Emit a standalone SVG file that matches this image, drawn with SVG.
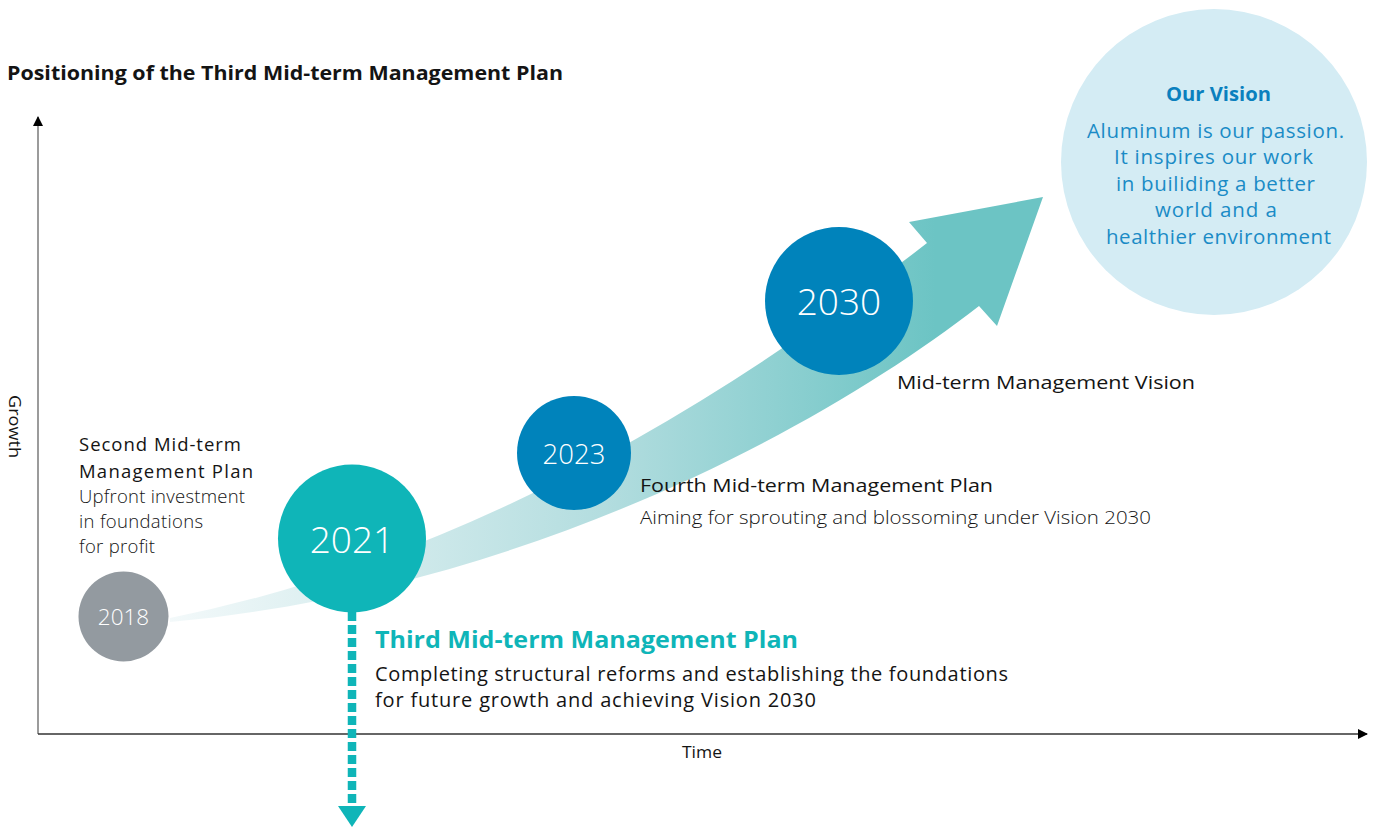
<svg xmlns="http://www.w3.org/2000/svg" width="1375" height="828" viewBox="0 0 1375 828">
  <defs>
    <linearGradient id="bandGrad" gradientUnits="userSpaceOnUse" x1="170" y1="0" x2="1040" y2="0">
      <stop offset="0" stop-color="#f3f9fa"/>
      <stop offset="0.5" stop-color="#b3dddf"/>
      <stop offset="0.88" stop-color="#6cc4c4"/>
      <stop offset="1" stop-color="#6cc4c4"/>
    </linearGradient>
    <marker id="axisHead" viewBox="0 0 10 10" refX="9" refY="5" markerWidth="10" markerHeight="10" markerUnits="userSpaceOnUse" orient="auto">
      <path d="M0,0 L10,5 L0,10 Z" fill="#000"/>
    </marker>
  </defs>
  <style>
    .txt { font-family: "Open Sans", "Noto Sans", "Liberation Sans", sans-serif; fill: #141414; }
    .bold { font-weight: 700; }
    .light { font-weight: 300; }
    .year { font-family: "Open Sans", "Noto Sans", "Liberation Sans", sans-serif; fill: #ffffff; text-anchor: middle; font-weight: 300; }
    .vision { font-family: "Open Sans", "Noto Sans", "Liberation Sans", sans-serif; fill: #1a8bc6; text-anchor: middle; }
  </style>

  <rect width="1375" height="828" fill="#ffffff"/>

  <!-- title -->
  <text class="txt bold" x="7" y="80" font-size="19.5" textLength="556" lengthAdjust="spacingAndGlyphs">Positioning of the Third Mid-term Management Plan</text>

  <!-- axes -->
  <g id="axes">
    <line x1="38" y1="734" x2="38" y2="117" stroke="#7a7a7a" stroke-width="1.5" marker-end="url(#axisHead)"/>
    <line x1="38" y1="734" x2="1367" y2="734" stroke="#333333" stroke-width="1.5" marker-end="url(#axisHead)"/>
    <text class="txt" x="0" y="0" font-size="16" transform="translate(9,426.5) rotate(90)" text-anchor="middle" textLength="63" lengthAdjust="spacingAndGlyphs">Growth</text>
    <text class="txt" x="702" y="758" font-size="16" text-anchor="middle" textLength="40" lengthAdjust="spacingAndGlyphs">Time</text>
  </g>

  <!-- growth arrow -->
  <g id="growth-arrow">
    <path d="M170,618 Q541,544 927,243 L909,222 L1043,197 L997,326 L979,306 C820,430 520,590 170,622 Z" fill="url(#bandGrad)"/>
  </g>

  <!-- connectors -->
  <g id="connectors">
    <line x1="352" y1="612" x2="352" y2="806" stroke="#0fb5b8" stroke-width="8.5" stroke-dasharray="9 4"/>
    <path d="M338,806 L366,806 L352,827 Z" fill="#0fb5b8"/>
  </g>

  <!-- Our Vision -->
  <g id="our-vision">
    <circle cx="1214" cy="162" r="153" fill="#d4ecf4"/>
    <text class="vision bold" x="1218.5" y="101" font-size="19.5" style="fill:#0a80be" textLength="105" lengthAdjust="spacingAndGlyphs">Our Vision</text>
    <text class="vision" font-size="20.5" lengthAdjust="spacingAndGlyphs">
      <tspan x="1218.5" y="138" textLength="257">Aluminum is our passion.</tspan>
      <tspan x="1216.5" y="164" textLength="199">It inspires our work</tspan>
      <tspan x="1218.5" y="191" textLength="199">in builiding a better</tspan>
      <tspan x="1219" y="217" textLength="122">world and a</tspan>
      <tspan x="1218.5" y="244" textLength="225">healthier environment</tspan>
    </text>
  </g>

  <!-- 2018 -->
  <g id="plan-2018">
    <circle cx="123.5" cy="616.5" r="45" fill="#939aa0"/>
    <text class="year" x="123.5" y="624.5" font-size="22.5">2018</text>
    <text class="txt" font-size="18.5" lengthAdjust="spacingAndGlyphs">
      <tspan x="79" y="451" textLength="162">Second Mid-term</tspan>
      <tspan x="79" y="478" textLength="174">Management Plan</tspan>
    </text>
    <text class="txt light" font-size="18.5" lengthAdjust="spacingAndGlyphs">
      <tspan x="79" y="503" textLength="166">Upfront investment</tspan>
      <tspan x="79" y="528" textLength="124">in foundations</tspan>
      <tspan x="79" y="553" textLength="76">for profit</tspan>
    </text>
  </g>

  <!-- 2021 -->
  <g id="plan-2021">
    <circle cx="352" cy="538.5" r="74" fill="#0fb5b8"/>
    <text class="year" x="352" y="553" font-size="37">2021</text>
    <text class="txt bold" x="375" y="648" font-size="23.5" style="fill:#0fb5b8" textLength="423" lengthAdjust="spacingAndGlyphs">Third Mid-term Management Plan</text>
    <text class="txt" font-size="20" lengthAdjust="spacingAndGlyphs">
      <tspan x="375" y="681" textLength="633">Completing structural reforms and establishing the foundations</tspan>
      <tspan x="375" y="707" textLength="441">for future growth and achieving Vision 2030</tspan>
    </text>
  </g>

  <!-- 2023 -->
  <g id="plan-2023">
    <circle cx="574" cy="453" r="57" fill="#0083bb"/>
    <text class="year" x="574" y="464" font-size="27.5">2023</text>
    <text class="txt" x="640" y="492" font-size="19" textLength="353" lengthAdjust="spacingAndGlyphs">Fourth Mid-term Management Plan</text>
    <text class="txt light" x="640" y="524" font-size="19" textLength="511" lengthAdjust="spacingAndGlyphs">Aiming for sprouting and blossoming under Vision 2030</text>
  </g>

  <!-- 2030 -->
  <g id="vision-2030">
    <circle cx="839" cy="301" r="74" fill="#0083bb"/>
    <text class="year" x="839" y="315" font-size="37">2030</text>
    <text class="txt" x="897" y="389" font-size="19" textLength="298" lengthAdjust="spacingAndGlyphs">Mid-term Management Vision</text>
  </g>
</svg>
